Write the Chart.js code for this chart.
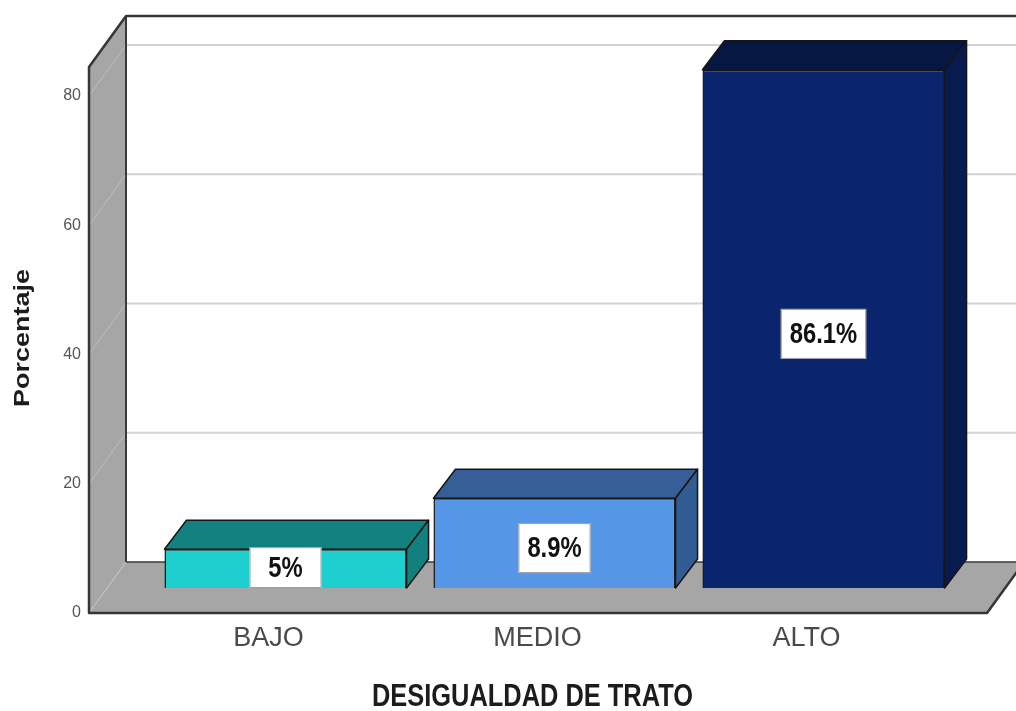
<!DOCTYPE html>
<html>
<head>
<meta charset="utf-8">
<title>Desigualdad de trato</title>
<script src="https://cdn.jsdelivr.net/npm/chart.js@4.4.1/dist/chart.umd.min.js"></script>
<style>
  body { margin: 0; background: #fff; }
  #wrap { width: 1016px; height: 711px; }
</style>
</head>
<body>
<div id="wrap"><canvas id="chart-trato" width="1016" height="711"></canvas></div>
<script>
// --- data ---
var categories = ["BAJO", "MEDIO", "ALTO"];
var percentValues = [6.0, 13.9, 80.2];        // bar heights as drawn
var percentLabels = ["5%", "8.9%", "86.1%"];  // text printed on the bars
var yTicks = [0, 20, 40, 60, 80];
var yTitle = "Porcentaje";
var xTitle = "DESIGUALDAD DE TRATO";

// colours for the three faces of each bar
var frontColors = ["#1ecfcf", "#5596e6", "#0a246e"];
var topColors   = ["#128280", "#365f98", "#061842"];
var sideColors  = ["#12807f", "#325c94", "#071b50"];

var SANS = '"Liberation Sans", Arial, sans-serif';
var SQUEEZE = 0.82; // the source image is squashed sideways

// depth offsets, relative to the plane the bars stand on
var FRONT = { dx: -17, dy: 25 };
var BACK  = { dx: 20,  dy: -26 };
var BARD  = { dx: 22,  dy: -29 };

function poly(ctx, pts, fill, stroke, lw)
{
  ctx.beginPath();
  ctx.moveTo(pts[0][0], pts[0][1]);
  for (var i = 1; i < pts.length; i++)
    ctx.lineTo(pts[i][0], pts[i][1]);
  ctx.closePath();
  if (fill) { ctx.fillStyle = fill; ctx.fill(); }
  if (stroke) { ctx.strokeStyle = stroke; ctx.lineWidth = lw || 1; ctx.stroke(); }
}

function line(ctx, x1, y1, x2, y2, color, lw)
{
  ctx.beginPath();
  ctx.moveTo(x1, y1);
  ctx.lineTo(x2, y2);
  ctx.strokeStyle = color;
  ctx.lineWidth = lw;
  ctx.stroke();
}

function squeezedText(ctx, txt, x, y)
{
  ctx.save();
  ctx.translate(x, y);
  ctx.scale(SQUEEZE, 1);
  ctx.fillText(txt, 0, 0);
  ctx.restore();
}

// walls, floor and grid behind the bars
var boxPlugin = {
  id: 'box3d',
  beforeDatasetsDraw: function(chart) {
    var ctx = chart.ctx, a = chart.chartArea, ys = chart.scales.y;
    var xL = a.left - 45, xR = a.right + 46;
    var yB = ys.getPixelForValue(0), yT = a.top;
    ctx.save();
    ctx.lineJoin = 'round';

    // left wall + floor
    poly(ctx, [[xL + FRONT.dx, yB + FRONT.dy], [xL + FRONT.dx, yT + FRONT.dy],
               [xL + BACK.dx, yT + BACK.dy], [xL + BACK.dx, yB + BACK.dy]], '#a6a6a6');
    poly(ctx, [[xL + FRONT.dx, yB + FRONT.dy], [xR + FRONT.dx, yB + FRONT.dy],
               [xR + BACK.dx, yB + BACK.dy], [xL + BACK.dx, yB + BACK.dy]], '#a6a6a6');

    // grid lines on back wall and left wall
    yTicks.forEach(function(v) {
      if (v === 0) return;
      var gy = ys.getPixelForValue(v);
      line(ctx, xL + BACK.dx, gy + BACK.dy, xR + BACK.dx + 40, gy + BACK.dy, '#d3d3d3', 2);
      line(ctx, xL + BACK.dx, gy + BACK.dy, xL + FRONT.dx, gy + FRONT.dy, '#bdbdbd', 1);
    });
    // wall / floor seam
    line(ctx, xL + FRONT.dx, yB + FRONT.dy, xL + BACK.dx, yB + BACK.dy, '#c4c4c4', 1);

    // inner edges
    line(ctx, xL + BACK.dx, yT + BACK.dy, xL + BACK.dx, yB + BACK.dy, '#3a3a3a', 2);
    line(ctx, xL + BACK.dx, yB + BACK.dy, xR + BACK.dx + 40, yB + BACK.dy, '#3a3a3a', 1.5);

    // outer edges
    ctx.beginPath();
    ctx.moveTo(xR + BACK.dx + 40, yT + BACK.dy);
    ctx.lineTo(xL + BACK.dx, yT + BACK.dy);
    ctx.lineTo(xL + FRONT.dx, yT + FRONT.dy);
    ctx.lineTo(xL + FRONT.dx, yB + FRONT.dy);
    ctx.lineTo(xR + FRONT.dx, yB + FRONT.dy);
    ctx.lineTo(xR + BACK.dx, yB + BACK.dy);
    ctx.strokeStyle = '#363636';
    ctx.lineWidth = 2.5;
    ctx.stroke();
    ctx.restore();
  },
  afterDatasetsDraw: function(chart) {
    var ctx = chart.ctx;
    var meta = chart.getDatasetMeta(0);
    ctx.save();
    ctx.lineJoin = 'round';
    meta.data.forEach(function(bar, i) {
      var p = bar.getProps(['x', 'y', 'base', 'width'], true);
      var l = p.x - p.width / 2, r = p.x + p.width / 2, t = p.y, b = p.base;
      poly(ctx, [[l, t], [l + BARD.dx, t + BARD.dy], [r + BARD.dx, t + BARD.dy], [r, t]],
           topColors[i], '#151515', 1.5);
      poly(ctx, [[r, t], [r + BARD.dx, t + BARD.dy], [r + BARD.dx, b + BARD.dy], [r, b]],
           sideColors[i], '#151515', 1.5);
    });

    // value boxes
    ctx.font = 'bold 29px ' + SANS;
    ctx.textAlign = 'center';
    ctx.textBaseline = 'middle';
    meta.data.forEach(function(bar, i) {
      var p = bar.getProps(['x', 'y', 'base'], true);
      var txt = percentLabels[i];
      var tw = ctx.measureText(txt).width * SQUEEZE;
      var bw = Math.max(tw + 18, 72);
      var bh = Math.min(50, (p.base - p.y) + 2);
      var cy = Math.min((p.y + p.base) / 2 + 5, p.base - bh / 2);
      ctx.fillStyle = '#ffffff';
      ctx.fillRect(p.x - bw / 2, cy - bh / 2, bw, bh);
      ctx.strokeStyle = '#9a9aa8';
      ctx.lineWidth = 1;
      ctx.strokeRect(p.x - bw / 2 + 0.5, cy - bh / 2 + 0.5, bw - 1, bh - 1);
      ctx.fillStyle = '#111111';
      squeezedText(ctx, txt, p.x, cy + 1);
    });
    ctx.restore();
  },
  afterDraw: function(chart) {
    // axis titles, centred on the front plane
    var ctx = chart.ctx, a = chart.chartArea;
    ctx.save();
    ctx.fillStyle = '#1c1c1c';
    ctx.textAlign = 'center';
    ctx.textBaseline = 'middle';
    ctx.font = 'bold 31px ' + SANS;
    squeezedText(ctx, xTitle, (a.left + a.right) / 2 + FRONT.dx - 5, 697);

    ctx.translate(23, (a.top + a.bottom) / 2 + 23);
    ctx.scale(SQUEEZE, 1);
    ctx.rotate(-Math.PI / 2);
    ctx.font = 'bold 27px ' + SANS;
    ctx.fillText(yTitle, 0, 0);
    ctx.restore();
  }
};

var chart = new Chart(document.getElementById("chart-trato").getContext("2d"), {
  type: "bar",
  data: {
    labels: categories,
    datasets: [{
      label: "Porcentaje",
      data: percentValues,
      backgroundColor: frontColors,
      borderColor: '#151515',
      borderWidth: 1.5,
      barPercentage: 0.9,
      categoryPercentage: 1.0,
    }]
  },
  options: {
    responsive: false,
    animation: false,
    layout: { padding: { top: 42, right: 58, left: 0, bottom: 0 } },
    plugins: {
      legend: { display: false },
      tooltip: { enabled: false },
    },
    scales: {
      x: {
        grid: { display: false, drawTicks: false },
        border: { display: false },
        ticks: {
          font: { family: SANS, size: 27 },
          color: '#4a4a4a',
          padding: 34,
          labelOffset: -17,
          maxRotation: 0,
        },
        afterFit: function(s) { s.height = 123; },
      },
      y: {
        min: 0,
        max: 84.5,
        grid: { display: false, drawTicks: false },
        border: { display: false },
        afterBuildTicks: function(s) {
          s.ticks = yTicks.map(function(v) { return { value: v }; });
        },
        ticks: {
          font: { family: SANS, size: 16 },
          color: '#555555',
          padding: 70,
          labelOffset: 25,
        },
        afterFit: function(s) {
          // the large label padding should not push the plot area down
          s.width = 151;
          s.paddingTop = 0;
          s.paddingBottom = 0;
        },
      }
    }
  },
  plugins: [boxPlugin],
});
</script>
</body>
</html>
